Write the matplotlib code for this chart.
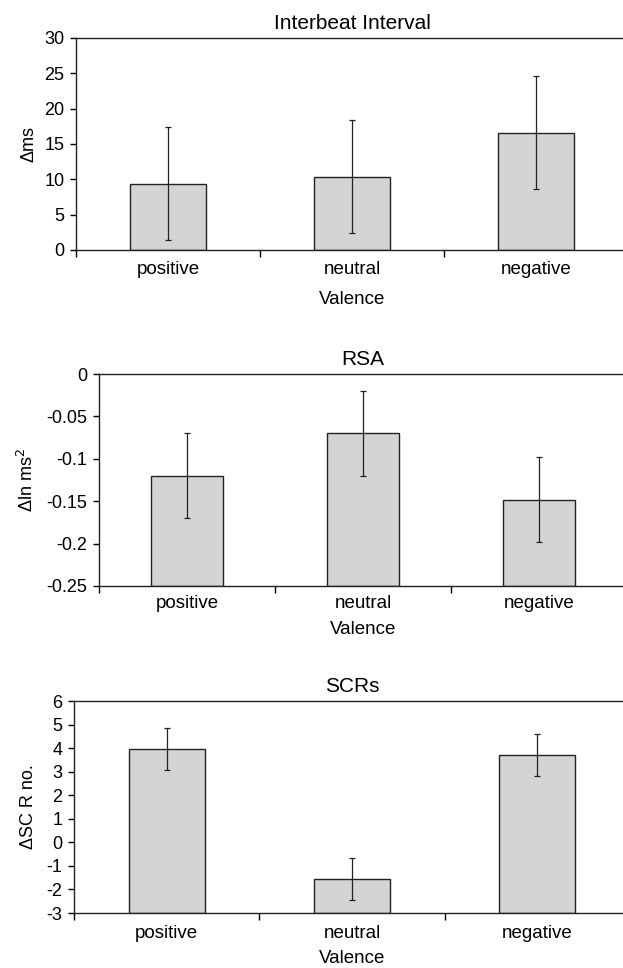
import matplotlib
matplotlib.use("Agg")
import matplotlib.pyplot as plt

plt.rcParams['font.family'] = ['Liberation Sans', 'DejaVu Sans']

categories = ["positive", "neutral", "negative"]

ibi_values = [9.4, 10.4, 16.6]
ibi_errors = [8.0, 8.0, 8.0]
ibi_ticks = [0, 5, 10, 15, 20, 25, 30]

rsa_values = [-0.12, -0.07, -0.148]
rsa_errors = [0.05, 0.05, 0.05]
rsa_ticks = [-0.25, -0.2, -0.15, -0.1, -0.05, 0]
rsa_ticklabels = ["-0.25", "-0.2", "-0.15", "-0.1", "-0.05", "0"]

scr_values = [3.95, -1.55, 3.7]
scr_errors = [0.9, 0.9, 0.9]
scr_ticks = [-3, -2, -1, 0, 1, 2, 3, 4, 5, 6]

fig = plt.figure(figsize=(6.23, 9.68), dpi=100)

W, H = 623, 968
def box(left, top, bottom, right):
    return [left / W, 1 - bottom / H, (right - left) / W, (bottom - top) / H]

panels = [
    dict(px=(76, 38, 250, 628), vals=ibi_values, errs=ibi_errors, ticks=ibi_ticks,
         labels=[str(t) for t in ibi_ticks], title="Interbeat Interval", ylabel="Δms",
         xpad=8, xlabelpad=9.5),
    dict(px=(99, 374, 586, 627), vals=rsa_values, errs=rsa_errors, ticks=rsa_ticks,
         labels=rsa_ticklabels, title="RSA", ylabel="Δln ms$^2$",
         xpad=6.5, xlabelpad=6.7),
    dict(px=(74, 701, 913, 630), vals=scr_values, errs=scr_errors, ticks=scr_ticks,
         labels=[str(t) for t in scr_ticks], title="SCRs", ylabel="ΔSC R no.",
         xpad=9, xlabelpad=5.5),
]

fs_x = 13.5
fs_y = 13
for p in panels:
    left, top, bottom, right = p["px"]
    ax = fig.add_axes(box(left, top, bottom, right))
    ymin, ymax = p["ticks"][0], p["ticks"][-1]
    x = list(range(len(categories)))
    heights = [v - ymin for v in p["vals"]]
    ax.bar(x, heights, bottom=ymin, width=0.41, color="#d3d4d6",
           edgecolor="#222222", linewidth=1.0, zorder=2)
    ax.errorbar(x, p["vals"], yerr=p["errs"], fmt="none", ecolor="#222222",
                elinewidth=0.9, capsize=2.5, capthick=0.9, zorder=3)
    ax.set_xlim(-0.5, 2.5)
    ax.set_ylim(ymin, ymax)
    ax.set_yticks(p["ticks"])
    ax.set_yticklabels(p["labels"], fontsize=fs_y)
    ax.set_xticks([-0.5, 0.5, 1.5, 2.5])
    ax.set_xticklabels([])
    ax.set_xticks(x, minor=True)
    ax.set_xticklabels(categories, minor=True, fontsize=fs_x)
    ax.tick_params(axis="x", which="minor", length=0, pad=p["xpad"])
    ax.tick_params(axis="x", which="major", length=5, width=1, direction="out")
    ax.tick_params(axis="y", length=4.3, width=1, direction="out", pad=4)
    ax.spines["right"].set_visible(False)
    for s in ["top", "left", "bottom"]:
        ax.spines[s].set_linewidth(1.0)
        ax.spines[s].set_color("#222222")
    ax.set_title(p["title"], fontsize=15, pad=6.5)
    ax.set_ylabel(p["ylabel"], fontsize=fs_y)
    ax.yaxis.set_label_coords((37 - left) / (right - left), 0.5)
    ax.set_xlabel("Valence", fontsize=fs_x, labelpad=p["xlabelpad"])

fig.savefig("out.png", dpi=100)
